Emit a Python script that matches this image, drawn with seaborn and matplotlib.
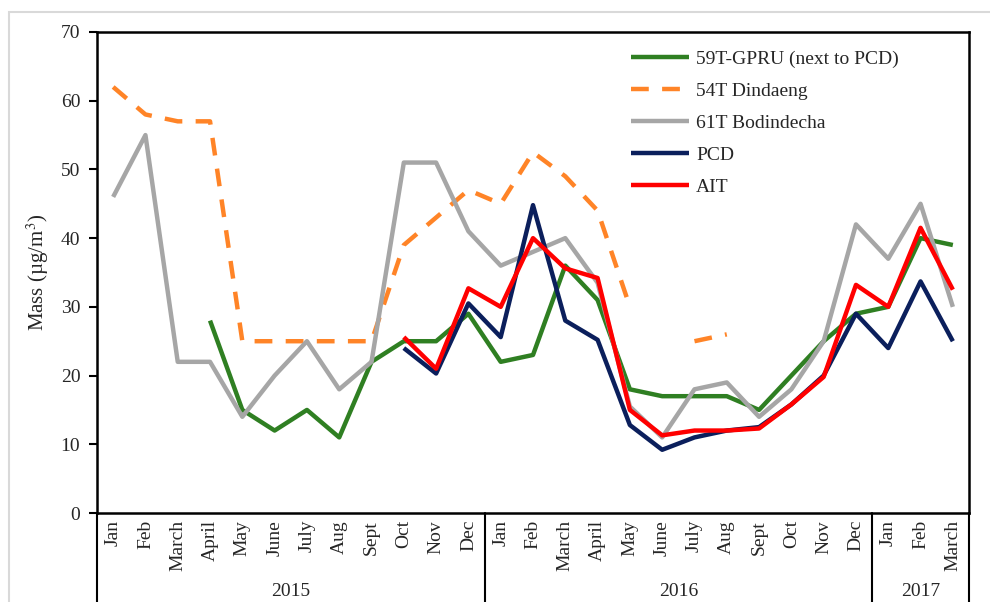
import numpy as np
import pandas as pd
import matplotlib
matplotlib.use("Agg")
import matplotlib.pyplot as plt
import seaborn as sns
from matplotlib.patches import Rectangle
from matplotlib.lines import Line2D
import matplotlib.transforms as mtransforms

months = ["Jan", "Feb", "March", "April", "May", "June", "July", "Aug", "Sept", "Oct", "Nov", "Dec",
          "Jan", "Feb", "March", "April", "May", "June", "July", "Aug", "Sept", "Oct", "Nov", "Dec",
          "Jan", "Feb", "March"]
years = ["2015", "2016", "2017"]
year_counts = [12, 12, 3]

nan = np.nan
gpru_59t = [nan, nan, nan, 28, 15, 12, 15, 11, 22, 25, 25, 29,
            22, 23, 36, 31, 18, 17, 17, 17, 15, 20, 25, 29,
            30, 40, 39]
dindaeng_54t = [62, 58, 57, 57, 25, 25, 25, 25, 25, 39, 43, 47,
                45, 52.5, 49, 44, 30, nan, 25, 26, nan, nan, nan, nan,
                nan, nan, nan]
bodindecha_61t = [46, 55, 22, 22, 14, 20, 25, 18, 22, 51, 51, 41,
                  36, 38, 40, 33.5, 15.5, 11, 18, 19, 14, 18, 25, 42,
                  37, 45, 30]
pcd = [nan, nan, nan, nan, nan, nan, nan, nan, nan, 24, 20.3, 30.5,
       25.6, 44.8, 28, 25.2, 12.8, 9.2, 11, 12, 12.5, 15.8, 20, 29,
       24, 33.7, 25]
ait = [nan, nan, nan, nan, nan, nan, nan, nan, nan, 25.6, 21, 32.7,
       30, 40, 35.6, 34.2, 15, 11.3, 12, 12, 12.3, 15.8, 19.8, 33.2,
       30, 41.5, 32.5]

series_names = ["59T-GPRU (next to PCD)", "54T Dindaeng", "61T Bodindecha", "PCD", "AIT"]
series_values = [gpru_59t, dindaeng_54t, bodindecha_61t, pcd, ait]
colors = ["#2f7f22", "#ff8427", "#a6a6a6", "#0b1f5c", "#ff0000"]
dashed = [False, True, False, False, False]

sns.set_theme(style="white")
plt.rcParams["font.family"] = ["Liberation Serif", "DejaVu Serif"]
plt.rcParams["mathtext.fontset"] = "stix"

fig = plt.figure(figsize=(9.9, 6.02), dpi=100)
ax = fig.add_axes([97 / 990, 1 - 513 / 602, (969 - 97) / 990, (513 - 32) / 602])

x_idx = np.arange(len(months))
lw = 3.2
for name, vals, col, dsh in zip(series_names, series_values, colors, dashed):
    df = pd.DataFrame({"x": x_idx, "y": vals})
    valid = df["y"].notna().values
    seg_id = np.cumsum(np.r_[True, valid[1:] != valid[:-1]])
    df["seg"] = seg_id
    first = True
    for s, sub in df[valid].groupby("seg"):
        sns.lineplot(data=sub, x="x", y="y", ax=ax, color=col, lw=lw,
                     estimator=None, sort=False,
                     label=name if first else None,
                     linestyle=(0, (4.0, 3.0)) if dsh else "-",
                     solid_capstyle="butt", dash_capstyle="butt")
        first = False

ax.set_xlim(-0.5, len(months) - 0.5)
ax.set_ylim(0, 70)
ax.set_yticks(np.arange(0, 71, 10))
ax.set_xticks(x_idx)
ax.set_xticklabels(months, rotation=90, fontsize=14)
ax.tick_params(axis="x", length=0, pad=5)
ax.tick_params(axis="y", direction="out", length=6, width=1.5, color="black", labelsize=14, pad=6, left=True)
ax.set_xlabel("")
ax.set_ylabel("Mass (µg/m$^3$)", fontsize=15, labelpad=7)
for sp in ax.spines.values():
    sp.set_color("black")
    sp.set_linewidth(1.8)

# lower category box lines
trans = mtransforms.blended_transform_factory(ax.transData, ax.transAxes)
bounds = [-0.5]
acc = -0.5
for c in year_counts:
    acc += c
    bounds.append(acc)
for b in bounds:
    ax.add_line(Line2D([b, b], [0, -0.3], transform=trans, color="black", lw=1.5, clip_on=False))
start = -0.5
for yr, c in zip(years, year_counts):
    ax.text(start + c / 2, -(600 - 513) / 481, yr, transform=trans, ha="center", va="bottom", fontsize=14)
    start += c

leg = ax.legend(loc="upper left", bbox_to_anchor=(631 / 990, 1 - 50 / 602), bbox_transform=fig.transFigure,
                frameon=False, fontsize=14, handlelength=3.0, handletextpad=0.35,
                labelspacing=0.74, borderpad=0, borderaxespad=0)

# outer light frame
fig.patches.append(Rectangle((9 / 990, -0.1), 1.2, 1 - 12 / 602 + 0.1, transform=fig.transFigure,
                             fill=False, edgecolor="#d9d9d9", lw=1.5, zorder=-1))

fig.savefig("out.png", dpi=100)
